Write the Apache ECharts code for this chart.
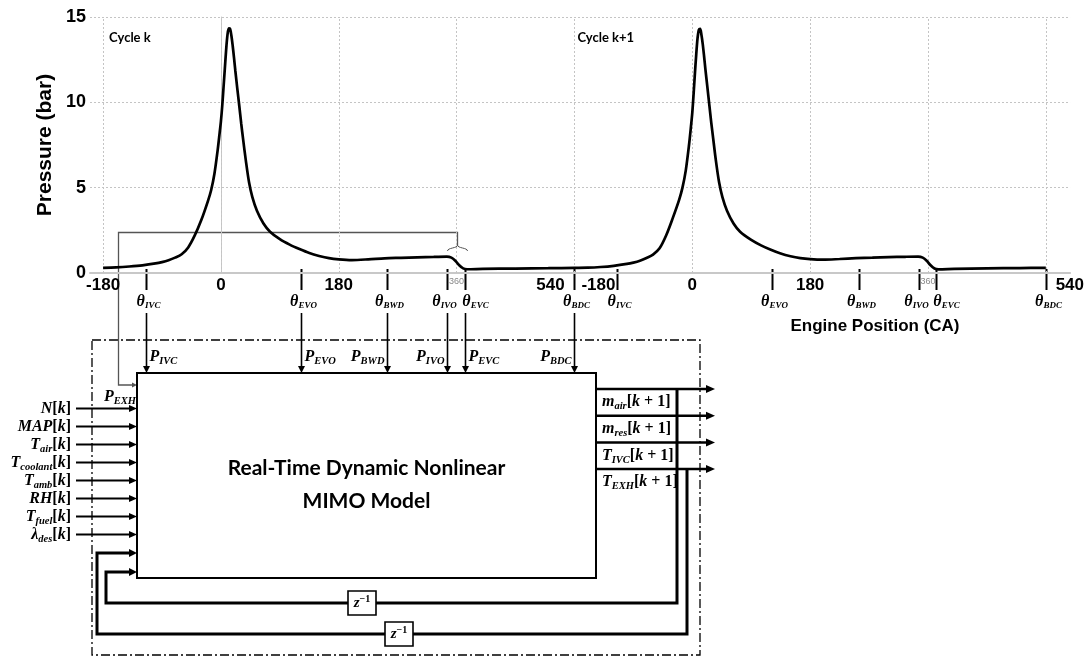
<!DOCTYPE html>
<html>
<head>
<meta charset="utf-8">
<script src="https://cdn.jsdelivr.net/npm/echarts@6/dist/echarts.min.js"></script>
<style>
  html, body { margin: 0; padding: 0; background: #fff; }
  #c { width: 1087px; height: 656px; }
</style>
</head>
<body>
<div id="c"></div>
<script>
// In-cylinder pressure trace, crank angle in deg CA (TDC firing = 0)
const cycleKAngle = [-180, -160, -140, -120, -100, -90, -80, -70, -60, -50, -40, -30, -20, -15, -10, -5, -2, 0, 2, 4, 6, 8, 10, 12, 14, 16, 18, 20, 22, 25, 28, 31, 34, 38, 43, 48, 55, 65, 75, 90, 105, 120, 135, 150, 165, 180, 200, 225, 250, 275, 300, 325, 345, 352, 358, 364, 370, 376, 400, 450, 500, 540];
const cycleKPressure = [0.30, 0.33, 0.38, 0.45, 0.56, 0.64, 0.75, 0.90, 1.10, 1.50, 2.20, 3.10, 4.20, 4.85, 5.80, 7.20, 8.20, 8.90, 9.80, 10.90, 12.00, 13.10, 13.95, 14.33, 14.30, 13.90, 13.30, 12.60, 11.85, 10.80, 9.80, 8.75, 7.80, 6.60, 5.30, 4.45, 3.65, 2.90, 2.42, 1.98, 1.66, 1.40, 1.17, 1.00, 0.87, 0.80, 0.76, 0.80, 0.86, 0.89, 0.92, 0.94, 0.96, 0.90, 0.72, 0.45, 0.27, 0.22, 0.24, 0.26, 0.28, 0.30];
const cycleK1Angle = [-160, -140, -120, -100, -90, -80, -70, -60, -50, -40, -30, -20, -15, -10, -5, -2, 0, 2, 4, 6, 8, 10, 12, 14, 16, 18, 20, 23, 26, 29, 32, 36, 41, 46, 53, 63, 73, 90, 105, 120, 135, 150, 165, 180, 200, 225, 250, 275, 300, 325, 345, 352, 358, 364, 370, 376, 400, 450, 500, 540];
const cycleK1Pressure = [0.31, 0.35, 0.42, 0.53, 0.61, 0.72, 0.88, 1.08, 1.45, 2.20, 3.20, 4.30, 5.00, 6.00, 7.50, 8.60, 9.40, 10.50, 11.70, 12.80, 13.75, 14.25, 14.30, 13.95, 13.40, 12.70, 11.95, 10.90, 9.85, 8.80, 7.85, 6.60, 5.30, 4.45, 3.65, 2.90, 2.42, 1.94, 1.62, 1.36, 1.14, 0.98, 0.87, 0.81, 0.78, 0.82, 0.87, 0.90, 0.93, 0.95, 0.96, 0.90, 0.72, 0.45, 0.26, 0.21, 0.24, 0.27, 0.29, 0.30];
const CYCLE_SPAN = 720;

// Axis ticks (continuous crank angle over two cycles)
const xTickValues = [-180, 0, 180, 360, 540, 720, 900, 1080, 1260];
const yTickValues = [0, 5, 10, 15];

// Engine events within a cycle (deg CA)
const eventNames = ['IVC', 'EVO', 'BWD', 'IVO', 'EVC', 'BDC'];
const eventAngles = [-115, 122, 254, 346, 373, 540];
const pressureLabelSide = ['right', 'right', 'left', 'left', 'right', 'left'];

// Model inputs and outputs: [symbol, subscript]
const inputLabels = [['N', ''], ['MAP', ''], ['T', 'air'], ['T', 'coolant'], ['T', 'amb'], ['RH', ''], ['T', 'fuel'], ['λ', 'des']];
const outputLabels = [['m', 'air'], ['m', 'res'], ['T', 'IVC'], ['T', 'EXH']];
const cycleLabels = ['Cycle k', 'Cycle k+1'];

const seriesData = cycleKAngle.map((a, i) => [a, cycleKPressure[i]])
  .concat(cycleK1Angle.map((a, i) => [a + CYCLE_SPAN, cycleK1Pressure[i]]));

const SERIF = "'Liberation Serif', 'DejaVu Serif', serif";
const SANS = "'Liberation Sans', Arial, sans-serif";
const mathRich = {
  v: { fontFamily: SERIF, fontStyle: 'italic', fontWeight: 'bold', fontSize: 16, color: '#000' },
  s: { fontFamily: SERIF, fontStyle: 'italic', fontWeight: 'bold', fontSize: 10.5, color: '#000', padding: [9, 0, 0, 0] },
  k: { fontFamily: SERIF, fontWeight: 'bold', fontSize: 16, color: '#000' },
  t: { fontFamily: SERIF, fontStyle: 'italic', fontWeight: 'bold', fontSize: 16, color: '#000' },
  ts: { fontFamily: SERIF, fontStyle: 'italic', fontWeight: 'bold', fontSize: 9, color: '#000', padding: [8, 0, 0, 0] },
  z: { fontFamily: SERIF, fontStyle: 'italic', fontWeight: 'bold', fontSize: 15, color: '#000' },
  p: { fontFamily: SERIF, fontWeight: 'bold', fontSize: 10, color: '#000', padding: [0, 0, 8, 0] }
};
const sub = (m, s) => '{v|' + m + '}' + (s ? '{s|' + s + '}' : '');

const gridColor = '#c4c4c4';
const option = {
  animation: false,
  backgroundColor: '#fff',
  grid: { left: 90, right: 1, top: 17, bottom: 383, containLabel: false },
  xAxis: {
    type: 'value', min: -200, max: 1297,
    axisLine: { show: true, onZero: false, lineStyle: { color: '#c8c8c8', width: 2 } },
    axisTick: { show: false, customValues: xTickValues },
    splitLine: { show: false },
    axisLabel: {
      customValues: xTickValues, margin: 4,
      formatter: function (v) {
        const c = v > 540 ? v - CYCLE_SPAN : v;
        if (v === 540) return '{a|540}{g| }{b|-180}';
        if (v === 1260) return '{a| }{g| }{b|540}';
        if (c === 360) return '{s|360}';
        return '{m|' + c + '}';
      },
      rich: {
        m: { fontFamily: SANS, fontWeight: 'bold', fontSize: 17, color: '#000' },
        a: { fontFamily: SANS, fontWeight: 'bold', fontSize: 17, color: '#000', width: 42, align: 'right' },
        g: { width: 6 },
        b: { fontFamily: SANS, fontWeight: 'bold', fontSize: 17, color: '#000', width: 42, align: 'left' },
        s: { fontFamily: SANS, fontSize: 9, color: '#888' }
      }
    }
  },
  yAxis: {
    type: 'value', min: 0, max: 15, interval: 5,
    axisLine: { show: true, lineStyle: { color: '#c8c8c8', width: 1 } },
    axisTick: { show: false },
    axisLabel: { margin: 4, fontFamily: SANS, fontWeight: 'bold', fontSize: 18, color: '#000' },
    splitLine: { show: true, lineStyle: { color: gridColor, type: [2, 2], width: 1 } }
  },
  series: [{
    type: 'line',
    data: seriesData,
    symbol: 'none',
    smooth: 0.3,
    lineStyle: { color: '#000', width: 2.7 },
    z: 5,
    markLine: {
      silent: true, symbol: 'none', animation: false,
      label: { show: false },
      lineStyle: { color: gridColor, type: [2, 2], width: 1 },
      data: xTickValues.map(v => ({ xAxis: v }))
    }
  }]
};

const chart = echarts.init(document.getElementById('c'));
chart.setOption(option);

const px = v => chart.convertToPixel({ xAxisIndex: 0 }, v);
const py = v => chart.convertToPixel({ yAxisIndex: 0 }, v);

const g = [];
function seg(x1, y1, x2, y2, w, color, dash) {
  const st = { stroke: color || '#000', lineWidth: w };
  if (dash) st.lineDash = dash;
  g.push({ type: 'line', shape: { x1, y1, x2, y2 }, style: st });
}
function poly(points, w, color, dash) {
  const st = { stroke: color || '#000', lineWidth: w, fill: null, lineJoin: 'miter' };
  if (dash) st.lineDash = dash;
  g.push({ type: 'polyline', shape: { points }, style: st });
}
function head(x, y, dir, len, half, color) {
  const pts = dir === 'down'
    ? [[x, y], [x - half, y - len], [x + half, y - len]]
    : [[x, y], [x - len, y - half], [x - len, y + half]];
  g.push({ type: 'polygon', shape: { points: pts }, style: { fill: color || '#000' } });
}
function txt(x, y, text, style, extra) {
  g.push(Object.assign({
    type: 'text', x, y,
    style: Object.assign({ text, align: 'center', verticalAlign: 'middle', textAlign: 'center', textVerticalAlign: 'middle', fill: '#000' }, style)
  }, extra || {}));
}

// ---- diagram layout ----
const axisY = py(0);
const blk = { x: 137, y: 373, w: 459, h: 205 };
const blkR = blk.x + blk.w;
// horizontal nudges for event labels that sit close together
const eventLabelShift = { IVO: -5, EVC: 8 };

// dash-dot system boundary
g.push({ type: 'rect', shape: { x: 92, y: 340, width: 608, height: 315 },
  style: { fill: null, stroke: '#000', lineWidth: 1.3, lineDash: [9, 3, 2, 3] } });

// titles
txt(45, (py(0) + py(15)) / 2, 'Pressure (bar)', { font: 'bold 21px ' + SANS }, { rotation: Math.PI / 2 });
txt(875, 326, 'Engine Position (CA)', { font: 'bold 17px ' + SANS });
txt(px(-180) + 6, 38, cycleLabels[0], { font: 'bold 13px Lato', align: 'left', textAlign: 'left' });
txt(px(540) + 3, 38, cycleLabels[1], { font: 'bold 13px Lato', align: 'left', textAlign: 'left' });

// event markers under the crank-angle axis (both cycles)
[0, CYCLE_SPAN].forEach((off, c) => {
  eventAngles.forEach((a, i) => {
    const x = Math.round(px(a + off)) + 0.5;
    const name = eventNames[i];
    seg(x, axisY - 4, x, axisY + 17, 2);
    txt(x + 2 + (eventLabelShift[name] || 0), 302, '{t|θ}{ts|' + name + '}', { rich: mathRich });
    if (c === 0) {
      // sampled pressure fed into the model
      seg(x, 313, x, blk.y - 6, 1.6);
      head(x, blk.y, 'down', 7, 3.5);
      const right = pressureLabelSide[i] === 'right';
      txt(right ? x + 3 : x - 3, 357, sub('P', name),
        { rich: mathRich, align: right ? 'left' : 'right', textAlign: right ? 'left' : 'right' });
    }
  });
});

// exhaust pressure pick-off at 360 deg CA
const exX = Math.round(px(360)) + 0.5, exY = 232.5, exL = 118.5;
poly([[exX, 245], [exX, exY], [exL, exY], [exL, 385], [blk.x - 4, 385]], 1.3, '#555');
head(blk.x, 385, 'right', 5, 2.5, '#555');
g.push({ type: 'bezierCurve', shape: { x1: exX - 10, y1: 251, cpx1: exX - 10, cpy1: 247.5, cpx2: exX, cpy2: 248.5, x2: exX, y2: 245 }, style: { stroke: '#555', lineWidth: 1, fill: null } });
g.push({ type: 'bezierCurve', shape: { x1: exX + 10, y1: 251, cpx1: exX + 10, cpy1: 247.5, cpx2: exX, cpy2: 248.5, x2: exX, y2: 245 }, style: { stroke: '#555', lineWidth: 1, fill: null } });
txt(120, 397, sub('P', 'EXH'), { rich: mathRich });

// model block
g.push({ type: 'rect', shape: { x: blk.x, y: blk.y, width: blk.w, height: blk.h },
  style: { fill: '#fff', stroke: '#000', lineWidth: 2 } });
txt(blk.x + blk.w / 2, 468, 'Real-Time Dynamic Nonlinear', { font: 'bold 21px Lato' });
txt(blk.x + blk.w / 2, 501, 'MIMO Model', { font: 'bold 21px Lato' });

// inputs
inputLabels.forEach((lb, i) => {
  const y = 408.5 + i * 18;
  seg(76, y, blk.x - 7, y, 2);
  head(blk.x, y, 'right', 8, 3.5);
  txt(71, y, sub(lb[0], lb[1]) + '{k|[}{v|k}{k|]}', { rich: mathRich, align: 'right', textAlign: 'right' });
});

// outputs
const outY = outputLabels.map((lb, i) => 389 + i * 26.7);
outputLabels.forEach((lb, i) => {
  const y = outY[i];
  seg(blkR, y, 707, y, 2.5);
  head(715, y, 'right', 9, 4);
  txt(602, y + 13, sub(lb[0], lb[1]) + '{k|[}{v|k}{k| + 1]}', { rich: mathRich, align: 'left', textAlign: 'left' });
});

// one-step delayed feedback loops
const fb = [
  { xr: 677, yTop: outY[0], yb: 603, xl: 106, yin: 572, zx: 362 },
  { xr: 687, yTop: outY[3], yb: 634, xl: 97, yin: 553, zx: 399 }
];
fb.forEach(f => {
  poly([[f.xr, f.yTop], [f.xr, f.yb], [f.xl, f.yb], [f.xl, f.yin], [blk.x - 7, f.yin]], 3);
  head(blk.x, f.yin, 'right', 8, 4);
  g.push({ type: 'rect', shape: { x: f.zx - 14, y: f.yb - 12, width: 28, height: 24 },
    style: { fill: '#fff', stroke: '#000', lineWidth: 1.6 } });
  txt(f.zx, f.yb, '{z|z}{p|−1}', { rich: mathRich });
});

chart.setOption({ graphic: { elements: g } });
</script>
</body>
</html>
